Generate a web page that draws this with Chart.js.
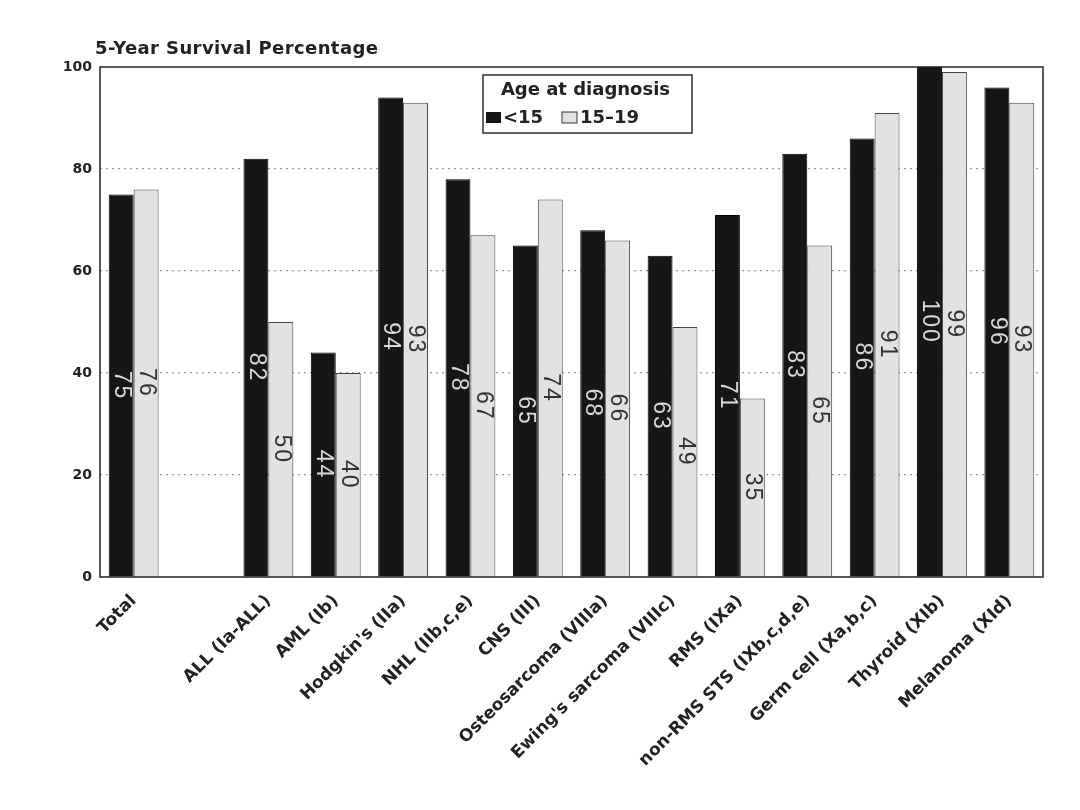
<!DOCTYPE html>
<html>
<head>
<meta charset="utf-8">
<script src="https://cdn.jsdelivr.net/npm/chart.js@4/dist/chart.umd.min.js"></script>
<style>
html,body{margin:0;padding:0;background:#fff;}
#wrap{width:1080px;height:810px;}
</style>
</head>
<body>
<div id="wrap"><canvas id="c" width="1080" height="810"></canvas></div>
<script>
const categories = ['Total', '', 'ALL (Ia-ALL)', 'AML (Ib)', "Hodgkin's (IIa)", 'NHL (IIb,c,e)', 'CNS (III)',
  'Osteosarcoma (VIIIa)', "Ewing's sarcoma (VIIIc)", 'RMS (IXa)', 'non-RMS STS (IXb,c,d,e)',
  'Germ cell (Xa,b,c)', 'Thyroid (XIb)', 'Melanoma (XId)'];
const under15 = [75, null, 82, 44, 94, 78, 65, 68, 63, 71, 83, 86, 100, 96];
const age15to19 = [76, null, 50, 40, 93, 67, 74, 66, 49, 35, 65, 91, 99, 93];
const seriesNames = ['<15', '15\u201319'];
const yTicks = [0, 20, 40, 60, 80, 100];
const legendTitle = 'Age at diagnosis';
const axisTitle = '5-Year Survival Percentage';

const FONT = '"DejaVu Sans", "Liberation Sans", sans-serif';
const DARK = '#161616';
const GREY = '#e2e2e2';

const bgPlugin = {
  id: 'bg',
  beforeDraw(chart) {
    const ctx = chart.ctx;
    ctx.save();
    ctx.fillStyle = '#fff';
    ctx.fillRect(0, 0, chart.width, chart.height);
    ctx.restore();
  }
};

const framePlugin = {
  id: 'frame',
  afterDatasetsDraw(chart) {
    const {ctx, chartArea: a} = chart;
    ctx.save();
    ctx.strokeStyle = '#222';
    ctx.lineWidth = 1.5;
    ctx.strokeRect(a.left, a.top, a.right - a.left, a.bottom - a.top);
    ctx.restore();
  }
};

const valuePlugin = {
  id: 'values',
  afterDatasetsDraw(chart) {
    const ctx = chart.ctx;
    chart.data.datasets.forEach((ds, di) => {
      const meta = chart.getDatasetMeta(di);
      meta.data.forEach((el, i) => {
        const v = ds.data[i];
        if (v === null || v === undefined) return;
        const cy = (el.y + el.base) / 2;
        ctx.save();
        ctx.translate(el.x, cy);
        ctx.rotate(Math.PI / 2);
        ctx.font = '23px "Liberation Sans", Arial, sans-serif';
        ctx.letterSpacing = '2px';
        ctx.textAlign = 'center';
        ctx.textBaseline = 'middle';
        ctx.fillStyle = di === 0 ? '#d8d8d8' : '#333';
        ctx.fillText(String(v), 0, 0);
        ctx.restore();
      });
    });
  }
};

const titlePlugin = {
  id: 'axTitle',
  afterDraw(chart) {
    const {ctx, chartArea: a} = chart;
    ctx.save();
    ctx.font = 'bold 18px ' + FONT;
    ctx.letterSpacing = '0.4px';
    ctx.fillStyle = '#222';
    ctx.textAlign = 'left';
    ctx.textBaseline = 'alphabetic';
    ctx.fillText(axisTitle, a.left - 5, a.top - 13);
    ctx.restore();
  }
};

const legendPlugin = {
  id: 'customLegend',
  afterDraw(chart) {
    const {ctx, chartArea: a} = chart;
    const x = a.left + 383, y = a.top + 8, w = 209, h = 58;
    ctx.save();
    ctx.fillStyle = '#fff';
    ctx.fillRect(x, y, w, h);
    ctx.strokeStyle = '#333';
    ctx.lineWidth = 1.5;
    ctx.strokeRect(x, y, w, h);
    ctx.fillStyle = '#222';
    ctx.font = 'bold 18px ' + FONT;
    ctx.textAlign = 'center';
    ctx.textBaseline = 'middle';
    ctx.fillText(legendTitle, x + w / 2 - 2, y + 15);
    ctx.textAlign = 'left';
    ctx.fillStyle = DARK;
    ctx.fillRect(x + 3, y + 37, 15, 11);
    ctx.fillStyle = '#222';
    ctx.fillText(seriesNames[0], x + 20, y + 43);
    ctx.fillStyle = GREY;
    ctx.fillRect(x + 79, y + 37, 15, 11);
    ctx.strokeStyle = '#333';
    ctx.lineWidth = 1;
    ctx.strokeRect(x + 79, y + 37, 15, 11);
    ctx.fillStyle = '#222';
    ctx.fillText(seriesNames[1], x + 97, y + 43);
    ctx.restore();
  }
};

new Chart(document.getElementById('c'), {
  type: 'bar',
  data: {
    labels: categories,
    datasets: [
      {label: seriesNames[0], data: under15, backgroundColor: DARK, borderColor: '#000', borderWidth: 1},
      {label: seriesNames[1], data: age15to19, backgroundColor: GREY, borderColor: '#444', borderWidth: 1}
    ]
  },
  options: {
    responsive: false,
    devicePixelRatio: 1,
    animation: false,
    categoryPercentage: 0.74,
    barPercentage: 1.0,
    layout: {padding: {top: 67, right: 37, left: 0, bottom: 0}},
    plugins: {legend: {display: false}, title: {display: false}, tooltip: {enabled: false}},
    scales: {
      x: {
        grid: {display: false},
        border: {display: false},
        ticks: {
          autoSkip: false, maxRotation: 45, minRotation: 45, padding: 6,
          color: '#222', font: {family: FONT, size: 17, weight: 'bold'}
        },
        afterFit(s) { s.height = 233; }
      },
      y: {
        min: 0, max: 100,
        afterBuildTicks(s) { s.ticks = yTicks.map(v => ({value: v})); },
        grid: {
          drawTicks: false,
          color: c => (c.tick && (c.tick.value === 0 || c.tick.value === 100)) ? 'rgba(0,0,0,0)' : '#999',
          lineWidth: 1.2
        },
        border: {display: false, dash: [2, 4]},
        ticks: {padding: 8, color: '#222', font: {family: FONT, size: 14, weight: 'bold'}},
        afterFit(s) { s.width = 100; }
      }
    }
  },
  plugins: [bgPlugin, framePlugin, valuePlugin, titlePlugin, legendPlugin]
});
</script>
</body>
</html>
